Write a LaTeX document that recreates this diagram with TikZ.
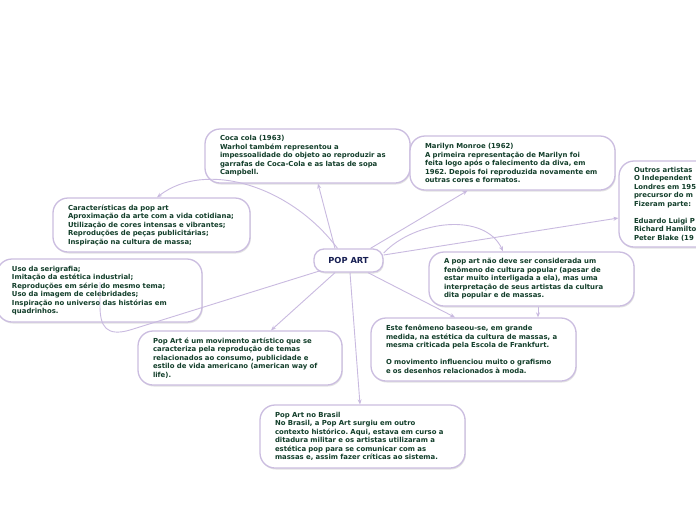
\documentclass[tikz,border=0pt]{standalone}
\usepackage{fontspec}
\setmainfont{DejaVu Sans}
\usetikzlibrary{arrows.meta,shadows}
\definecolor{boxline}{RGB}{203,189,224}
\definecolor{conn}{RGB}{201,186,224}
\definecolor{txt}{RGB}{18,62,42}
\definecolor{navy}{RGB}{22,30,82}
\frenchspacing
\tikzset{
  topic/.style={draw=boxline, line width=1.3pt, fill=white, rounded corners=15pt,
    align=left, inner xsep=15pt, inner ysep=3pt, text=txt,
    font=\fontsize{6.9}{8.5}\selectfont\bfseries,
    drop shadow={shadow xshift=0.8pt, shadow yshift=-1.5pt, fill=black!18, opacity=0.6}},
  central/.style={draw=boxline, line width=1.3pt, fill=white, rounded corners=10pt,
    text=navy, font=\fontsize{8.3}{9}\selectfont\bfseries, minimum width=69pt, minimum height=23pt,
    drop shadow={shadow xshift=0.8pt, shadow yshift=-1.5pt, fill=black!18, opacity=0.6}},
  link/.style={draw=conn, line width=0.9pt, -{Stealth[length=5pt,width=4pt]}},
  plain/.style={draw=conn, line width=0.9pt}
}
\begin{document}
\begin{tikzpicture}[x=1pt,y=-1pt]
\useasboundingbox (0,0) rectangle (696,520);
\clip (0,0) rectangle (696,520);
\fill[white] (0,0) rectangle (696,520);

\node[central] (pop) at (348.5,260.5) {POP ART};

\node[topic, minimum width=205pt, minimum height=54pt, text width=175pt] (coca) at (307.5,156)
 {Coca cola (1963)\\Warhol também representou a\\impessoalidade do objeto ao reproduzir as\\garrafas de Coca-Cola e as latas de sopa\\Campbell.};
\node[topic, minimum width=205pt, minimum height=54pt, text width=175pt] (mar) at (512.5,163)
 {Marilyn Monroe (1962)\\A primeira representação de Marilyn foi\\feita logo após o falecimento da diva, em\\1962. Depois foi reproduzida novamente em\\outras cores e formatos.};
\node[topic, minimum width=205pt, minimum height=86pt, text width=175pt] (out) at (721.5,204)
 {Outros artistas\\O Independent\\Londres em 195\\precursor do m\\Fizeram parte:\\[8.5pt]Eduardo Luigi P\\Richard Hamilto\\Peter Blake (19};
\node[topic, minimum width=197pt, minimum height=54pt, text width=167pt] (car) at (151.5,225)
 {Características da pop art\\Aproximação da arte com a vida cotidiana;\\Utilização de cores intensas e vibrantes;\\Reproduções de peças publicitárias;\\Inspiração na cultura de massa;};
\node[topic, minimum width=205pt, minimum height=63pt, text width=175pt] (uso) at (99.5,290.5)
 {Uso da serigrafia;\\Imitação da estética industrial;\\Reproduções em série do mesmo tema;\\Uso da imagem de celebridades;\\Inspiração no universo das histórias em\\quadrinhos.};
\node[topic, minimum width=205pt, minimum height=54pt, text width=175pt] (apop) at (531.5,279)
 {A pop art não deve ser considerada um\\fenômeno de cultura popular (apesar de\\estar muito interligada a ela), mas uma\\interpretação de seus artistas da cultura\\dita popular e de massas.};
\node[topic, minimum width=205pt, minimum height=63pt, text width=175pt] (este) at (473.5,349.5)
 {Este fenômeno baseou-se, em grande\\medida, na estética da cultura de massas, a\\mesma criticada pela Escola de Frankfurt.\\[8.5pt]O movimento influenciou muito o grafismo\\e os desenhos relacionados à moda.};
\node[topic, minimum width=204pt, minimum height=54pt, text width=174pt] (pae) at (240,358)
 {Pop Art é um movimento artístico que se\\caracteriza pela reprodução de temas\\relacionados ao consumo, publicidade e\\estilo de vida americano (american way of\\life).};
\node[topic, minimum width=205pt, minimum height=63pt, text width=175pt] (bra) at (362.5,436.5)
 {Pop Art no Brasil\\No Brasil, a Pop Art surgiu em outro\\contexto histórico. Aqui, estava em curso a\\ditadura militar e os artistas utilizaram a\\estética pop para se comunicar com as\\massas e, assim fazer críticas ao sistema.};

\coordinate (usoend) at (100,282);

\draw[link] ([xshift=-13.5pt]pop.north) -- ([xshift=10.5pt]coca.south);
\draw[link] ([xshift=-11pt]pop.north) .. controls (290,185) and (205,160) .. ([xshift=5.5pt]car.north);
\draw[link] ([xshift=22pt]pop.north) -- ([xshift=-45pt]mar.south);
\draw[link] ([yshift=5.5pt]pop.east) -- ([yshift=-14pt]out.west);
\draw[link] ([yshift=7.5pt]pop.east) .. controls (415,220) and (485,212) .. ([xshift=-28.5pt]apop.north);
\draw[link] ([xshift=19.5pt]pop.south) -- ([xshift=-18.5pt]este.north);
\draw[link] ([xshift=-13.5pt]pop.south) -- ([xshift=31pt]pae.north);
\draw[link] ([xshift=1.5pt]pop.south) -- ([xshift=-2.5pt]bra.north);
\draw[plain] ([xshift=-28pt,yshift=2pt]pop.south) -- (130,330) .. controls (106,337) and (100,326) .. (100,306) -- (usoend);
\draw[link] ([xshift=6.5pt]apop.south) -- ([xshift=64.5pt]este.north);
\end{tikzpicture}
\end{document}
